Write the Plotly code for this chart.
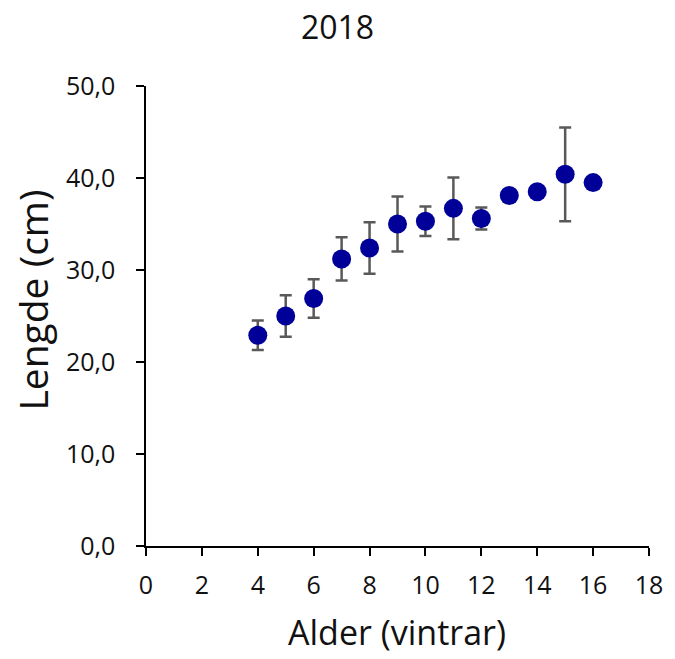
import plotly.graph_objects as go

# Mean length by age (winters), with standard deviation where available
alder = [4, 5, 6, 7, 8, 9, 10, 11, 12, 13, 14, 15, 16]
lengde = [22.9, 25.0, 26.9, 31.2, 32.4, 35.0, 35.3, 36.7, 35.6, 38.1, 38.5, 40.4, 39.5]
sd = [1.6, 2.25, 2.1, 2.35, 2.8, 3.0, 1.6, 3.35, 1.2, 0, 0, 5.1, 0]

x_ticks = list(range(0, 19, 2))
y_ticks = [0, 10, 20, 30, 40, 50]

FONT = "Open Sans"
W, H = 675, 659
L, R, T, B = 146, 19, 86, 113

fig = go.Figure()
fig.add_trace(go.Scatter(
    x=alder, y=lengde, mode="markers",
    marker=dict(size=19, color="#000099"),
    error_y=dict(type="data", array=sd, visible=True,
                 color="#595959", thickness=2.5, width=6),
    showlegend=False,
))

axis_common = dict(
    showline=True, linecolor="black", linewidth=1.5,
    ticks="outside", ticklen=8, tickwidth=1.5, tickcolor="black",
    showgrid=False, zeroline=False,
    tickfont=dict(family=FONT, size=25, color="#111111"),
)

fig.update_layout(
    width=W, height=H, autosize=False,
    margin=dict(l=L, r=R, t=T, b=B, pad=0),
    paper_bgcolor="white", plot_bgcolor="white",
    separators=", ",
    xaxis=dict(range=[0, 18], tickvals=x_ticks, ticklabelstandoff=8,
               ticklabeloverflow="allow", **axis_common),
    yaxis=dict(range=[0, 50], tickvals=y_ticks, tickformat=".1f",
               ticklabelstandoff=16, **axis_common),
    title=dict(text="2018", x=0.5, xref="container", xanchor="center",
               y=1 - 28 / H, yref="container", yanchor="middle",
               font=dict(family=FONT, size=32, color="#111111")),
)

pw = W - L - R
ph = H - T - B
fig.add_annotation(text="Lengde (cm)", textangle=-90, showarrow=False,
                   xref="paper", yref="paper",
                   x=(30 - L) / pw, y=(H - B - 300) / ph,
                   xanchor="center", yanchor="middle",
                   font=dict(family=FONT, size=39, color="#111111"))
fig.add_annotation(text="Alder (vintrar)", showarrow=False,
                   xref="paper", yref="paper",
                   x=(400 - L) / pw, y=-(657 - (H - B)) / ph,
                   xanchor="center", yanchor="bottom",
                   font=dict(family=FONT, size=34, color="#111111"))

fig.write_html("out.html")
